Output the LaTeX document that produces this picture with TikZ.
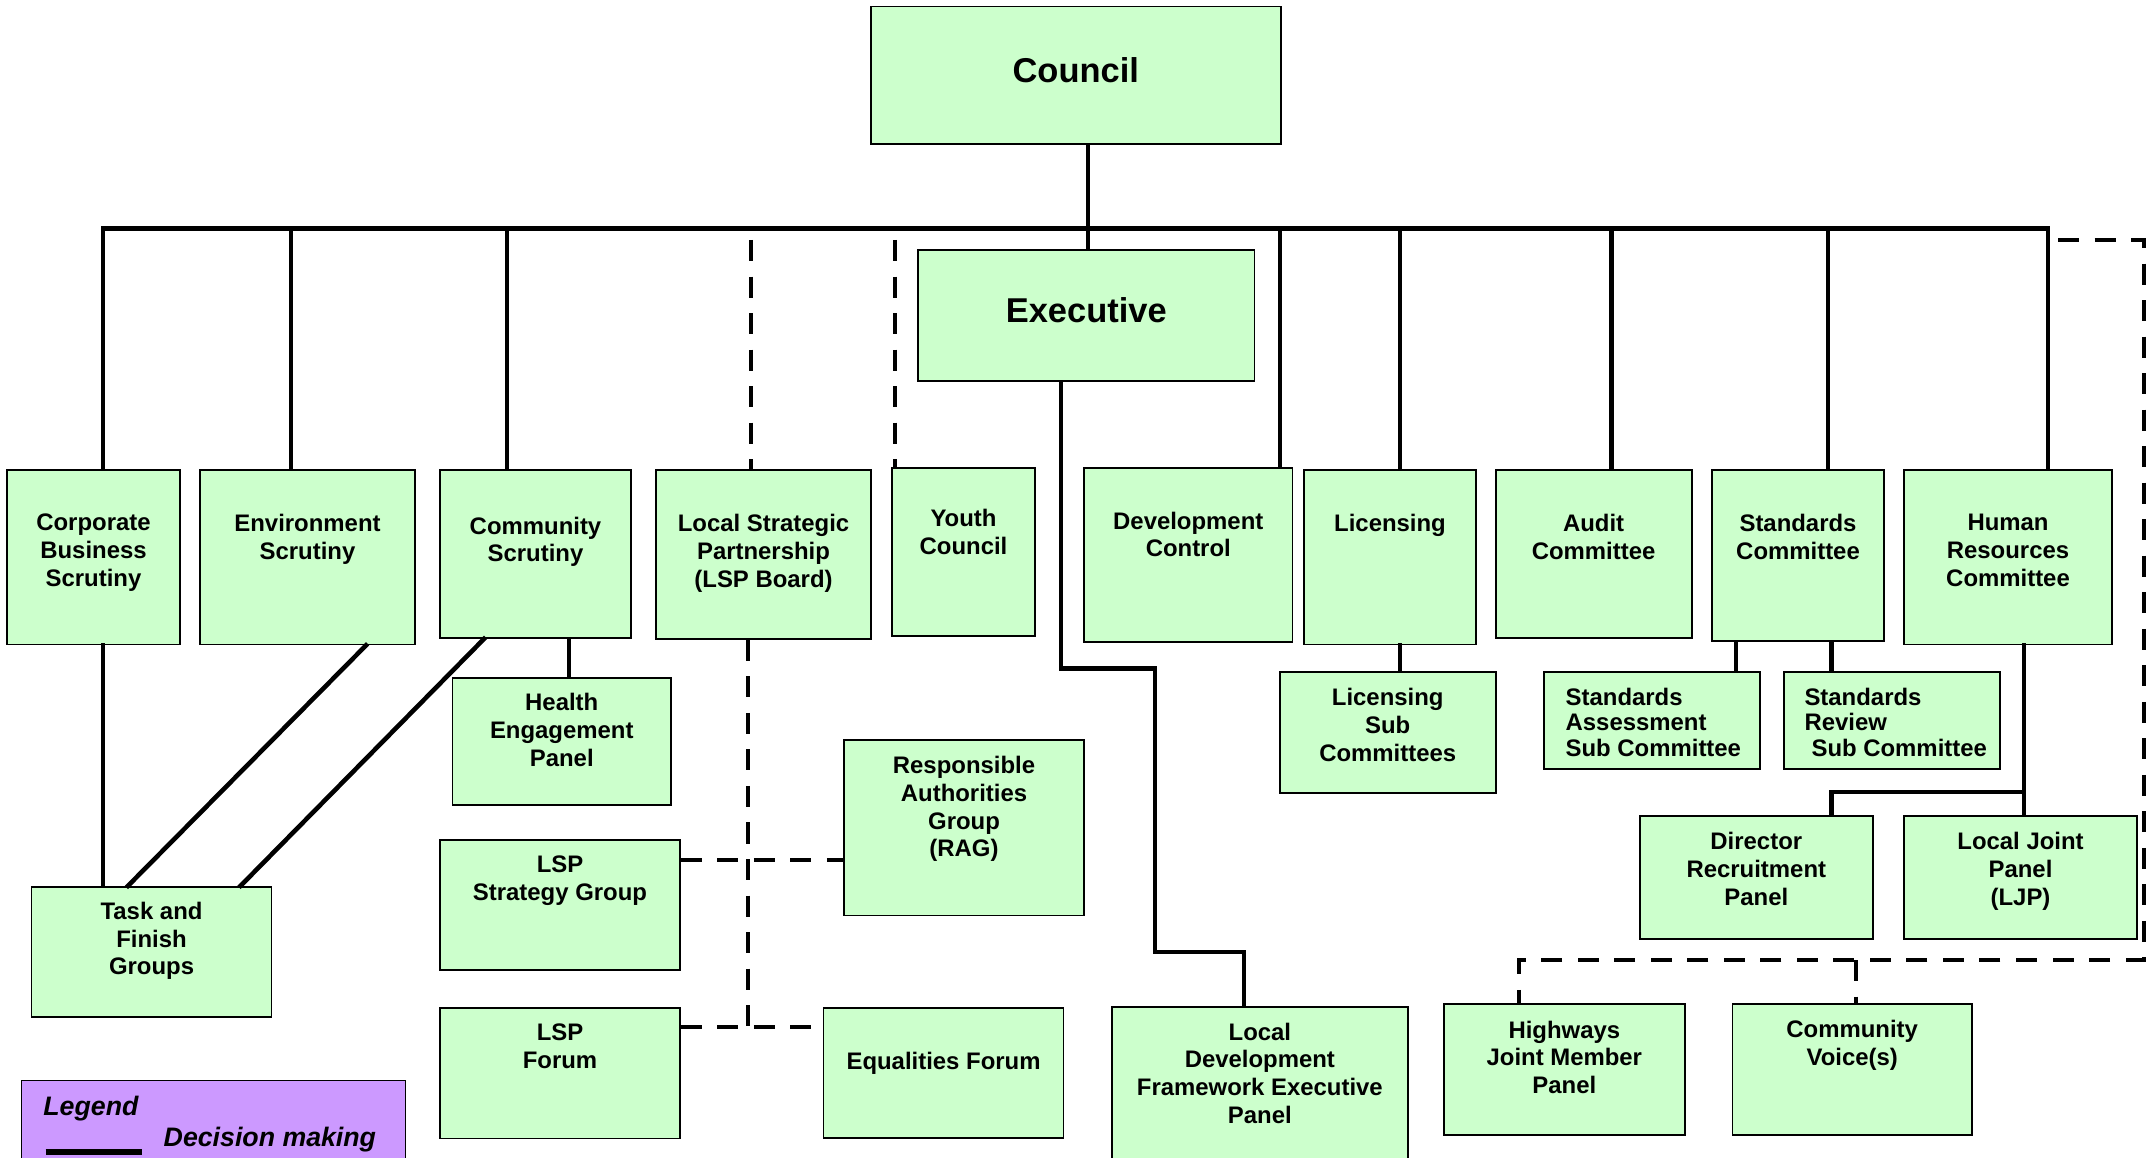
\documentclass[tikz,border=0pt]{standalone}
\usepackage{fontspec}
\setmainfont{Liberation Sans}
\definecolor{panelgreen}{HTML}{CCFFCC}
\definecolor{legendpurple}{HTML}{CC99FF}
\newcommand\boxfont{\fontsize{6.8}{7.9}\selectfont\bfseries}
\newcommand\titlefont{\fontsize{9.8}{11}\selectfont\bfseries}
\newcommand\legendfont{\fontsize{7.6}{9}\selectfont\bfseries\itshape}
\tikzset{
  panel/.style={draw=black, fill=panelgreen, line width=0.5pt, inner sep=0pt},
  paneltext/.style={anchor=north, align=center, inner sep=0pt, font=\boxfont},
  link/.style={line width=1.3pt, line cap=rect},
  dashlink/.style={line width=1.3pt, dash pattern=on 0.21cm off 0.155cm}
}
% box from corner (x1,y1) to (x2,y2), text hung from its top edge
\def\panel(#1)[#2](#3,#4,#5,#6)#7{\node[panel, minimum width={(#5-#3)*0.01cm}, minimum height={(#6-#4)*0.01cm}, label={[paneltext,#2]north:{#7}}] (#1) at ({(#3+#5)/2},{(#4+#6)/2}) {};}

\begin{document}
\begin{tikzpicture}[x=0.01cm, y=-0.01cm]
			%%%%% START %%%%%
			\useasboundingbox (0,0) rectangle (2152,1158);
			
			\node[panel, minimum width=4.095cm, minimum height=1.375cm, text depth=0.1cm, font=\titlefont] (council) at (1075.75,75.25) {Council};
			\node[panel, minimum width=3.365cm, minimum height=1.31cm, text depth=0.1cm, font=\titlefont] (exec) at (1086.25,315.5) {Executive};
			
			%%%%% TOP ROW %%%%%
			\panel(cbs)[yshift=-0.444cm](7,470,180,644.5){Corporate\\Business\\Scrutiny}
			\panel(env)[yshift=-0.444cm](200,470,415,644.5){Environment\\Scrutiny}
			\panel(cs)[yshift=-0.47cm](440,470,631,638){Community\\Scrutiny}
			\panel(lspb)[yshift=-0.444cm](656,470,871,639){Local Strategic\\Partnership\\(LSP Board)}
			\panel(youth)[yshift=-0.414cm](892,468,1035,636){Youth\\Council}
			\panel(dc)[yshift=-0.44cm](1084,468,1292.5,642){Development\\Control}
			\panel(lic)[yshift=-0.444cm](1304,470,1476,644.5){Licensing}
			\panel(audit)[yshift=-0.444cm](1495.6,470,1691.6,638){Audit\\Committee}
			\panel(std)[yshift=-0.444cm](1712,470,1884,641){Standards\\Committee}
			\panel(hr)[yshift=-0.444cm](1904,470,2112,644.5){Human\\Resources\\Committee}
			
			%%%%% LOWER BOXES %%%%%
			\panel(hep)[yshift=-0.16cm](452.5,677.7,671,805){Health\\Engagement\\Panel}
			\panel(tfg)[yshift=-0.155cm](31.6,886.7,271.5,1017){Task and\\Finish\\Groups}
			\panel(lsps)[yshift=-0.16cm](440,840,680,970){LSP\\Strategy Group}
			\panel(rag)[yshift=-0.164cm](844,740,1084,915.4){Responsible\\Authorities\\Group\\(RAG)}
			\panel(lspf)[yshift=-0.16cm](440,1008,680,1138.4){LSP\\Forum}
			\panel(eqf)[yshift=-0.444cm](823.6,1008,1063.5,1138){Equalities Forum}
			\panel(ldf)[yshift=-0.159cm](1112,1007,1407.7,1175){Local\\Development\\Framework Executive\\Panel}
			\panel(lsc)[yshift=-0.164cm](1279.8,672,1495.6,792.7){Licensing\\Sub\\Committees}
			\panel(sas)[anchor=north west, align=left, xshift=-0.87cm, yshift=-0.159cm, font=\fontsize{6.8}{7.3}\selectfont\bfseries](1544,672,1760,768.7){Standards\\Assessment\\Sub Committee}
			\panel(srs)[anchor=north west, align=left, xshift=-0.88cm, yshift=-0.159cm, font=\fontsize{6.8}{7.3}\selectfont\bfseries](1783.7,672,2000,768.7){Standards\\Review\\\hspace*{2pt}Sub Committee}
			\panel(drp)[yshift=-0.164cm](1639.6,816,1873,939){Director\\Recruitment\\Panel}
			\panel(ljp)[yshift=-0.164cm](1904,816,2137,939){Local Joint\\Panel\\(LJP)}
			\panel(hjm)[yshift=-0.17cm](1444,1004,1684.6,1134.7){Highways\\Joint Member\\Panel}
			\panel(cv)[yshift=-0.164cm](1732.4,1004,1972,1134.7){Community\\Voice(s)}
			
			%%%%% DECISION LINES %%%%%
			\coordinate (busL) at (103,228.5);
			\coordinate (busR) at (2048,228.5);
			\draw[link] (busL) -- (busR);
			\draw[link] (1088,0 |- council.south) -- (1088,0 |- exec.north);
			\draw[link] (busL) -- (busL |- cbs.north);
			\draw[link] (291,0 |- busL) -- (291,0 |- env.north);
			\draw[link] (507,0 |- busL) -- (507,0 |- cs.north);
			\draw[link] (1280,0 |- busL) -- (1280,0 |- dc.north);
			\draw[link] (1400,0 |- busL) -- (1400,0 |- lic.north);
			\draw[link] (1611.5,0 |- busL) -- (1611.5,0 |- audit.north);
			\draw[link] (1828,0 |- busL) -- (1828,0 |- std.north);
			\draw[link] (busR) -- (busR |- hr.north);
			
			\draw[link] (103,0 |- cbs.south) -- (103,0 |- tfg.north);
			\draw[link] (366,0 |- env.south) -- (128,0 |- tfg.north);
			\draw[link] (484,0 |- cs.south) -- (240.6,0 |- tfg.north);
			\draw[link] (569,0 |- cs.south) -- (569,0 |- hep.north);
			
			\coordinate (exbend1) at (1155,668.5);
			\coordinate (exbend2) at (1244,952);
			\draw[link] (1061,0 |- exec.south) |- (exbend1) |- (exbend2) -- (exbend2 |- ldf.north);
			
			\draw[link] (1400,0 |- lic.south) -- (1400,0 |- lsc.north);
			\draw[link] (1736,0 |- std.south) -- (1736,0 |- sas.north);
			\draw[link] (1831.5,0 |- std.south) -- (1831.5,0 |- srs.north);
			\draw[link] (2024,0 |- hr.south) -- (2024,0 |- ljp.north);
			\draw[link] (2024,792) -| (1831.5,0 |- drp.north);
			
			%%%%% DASHED LINES %%%%%
			\draw[dashlink] (751,240) -- (751,0 |- lspb.north);
			\draw[dashlink] (895,240) -- (895,0 |- youth.north);
			\draw[dashlink] (748,0 |- lspb.south) -- (748,1027);
			\draw[dashlink] (lsps.east |- 0,860) -- (rag.west |- 0,860);
			\draw[dashlink] (lspf.east |- 0,1027) -- (eqf.west |- 0,1027);
			
			\coordinate (dashA) at (2058,240);
			\coordinate (dashB) at (2144,960);
			\coordinate (hwdrop) at (1519,960);
			\coordinate (cvdrop) at (1856,960);
			\draw[dashlink] (dashA) -| (dashB) -- (hwdrop) -- (hwdrop |- hjm.north);
			\draw[dashlink] (cvdrop) -- (cvdrop |- cv.north);
			
			%%%%% LEGEND %%%%%
			\node[draw=black, fill=legendpurple, line width=0.5pt, inner sep=0pt, minimum width=3.838cm, minimum height=0.945cm] (legend) at (213.6,1127.75) {};
			\node[anchor=base west, inner sep=0pt, font=\legendfont] (legendtitle) at (42.7,1115) {Legend};
			\node[anchor=base west, inner sep=0pt, font=\legendfont] (legendentry) at (163,1146) {Decision making};
			\draw[line width=1.6pt] (45.7,1152) -- (141.7,1152);
			
			%%%%% END %%%%%
\end{tikzpicture}
\end{document}
